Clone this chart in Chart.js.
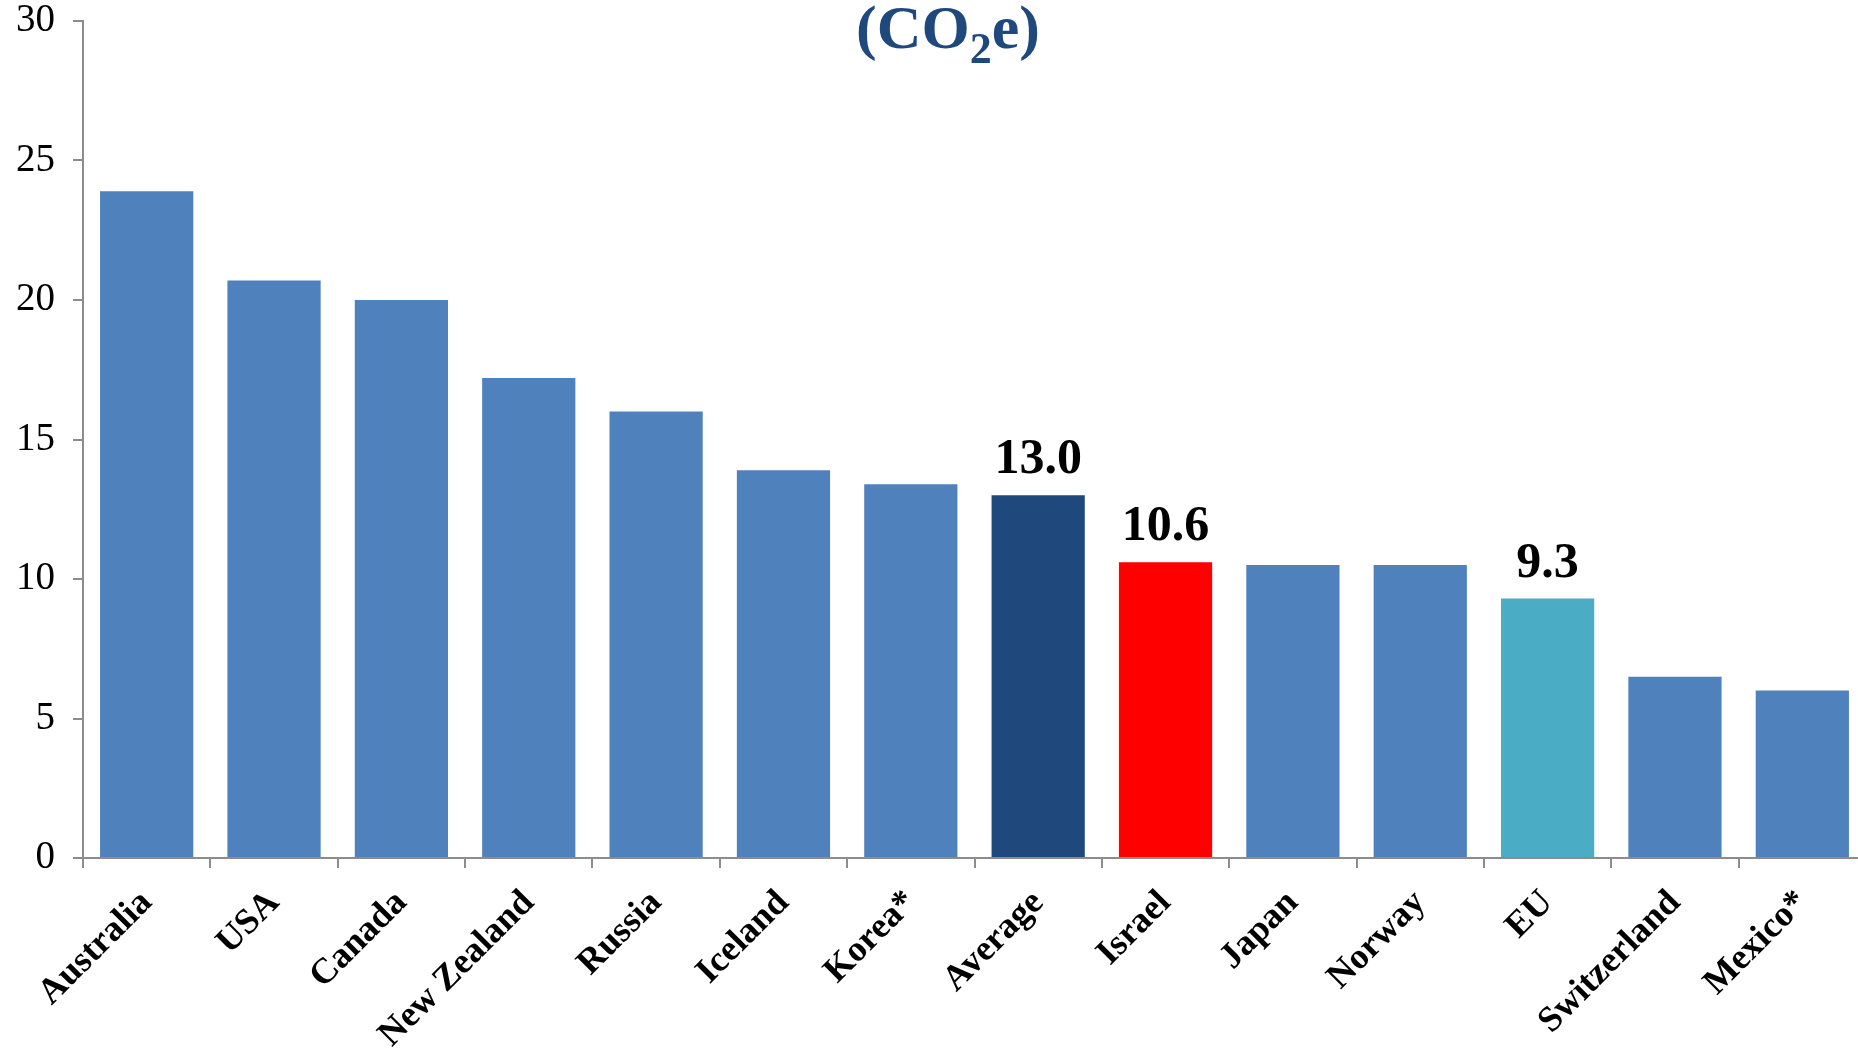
<!DOCTYPE html>
<html>
<head>
<meta charset="utf-8">
<title>CO2e per capita</title>
<script src="https://cdn.jsdelivr.net/npm/chart.js@4.4.1/dist/chart.umd.min.js"></script>
<style>
  html, body { margin: 0; padding: 0; background: #ffffff; overflow: hidden; }
  canvas { display: block; }
</style>
</head>
<body>
<canvas id="chart" width="1866" height="1052"></canvas>
<script>
// Greenhouse-gas emissions per capita, tonnes CO2e
const categories = ['Australia', 'USA', 'Canada', 'New Zealand', 'Russia', 'Iceland', 'Korea*',
                    'Average', 'Israel', 'Japan', 'Norway', 'EU', 'Switzerland', 'Mexico*'];
const emissions = [23.9, 20.7, 20.0, 17.2, 16.0, 13.9, 13.4, 13.0, 10.6, 10.5, 10.5, 9.3, 6.5, 6.0];
const labelledCategories = ['Average', 'Israel', 'EU'];
const yTickValues = [0, 5, 10, 15, 20, 25, 30];
const titleMain = '(CO';
const titleSub = '2';
const titleEnd = 'e)';

const SERIF = "'Liberation Serif', 'Times New Roman', Times, serif";
const BASE_BLUE = '#4F81BD';
const highlight = { 'Average': '#1F497D', 'Israel': '#FF0000', 'EU': '#4BACC6' };
const barColors = categories.map(c => highlight[c] || BASE_BLUE);
const AXIS_GREY = '#8C8C8C';

// Bold value labels over the highlighted bars
const valueLabels = {
  id: 'valueLabels',
  afterDatasetsDraw(chart) {
    const ctx = chart.ctx;
    const meta = chart.getDatasetMeta(0);
    ctx.save();
    ctx.font = 'bold 50px ' + SERIF;
    ctx.fillStyle = '#000000';
    ctx.textAlign = 'center';
    ctx.textBaseline = 'alphabetic';
    categories.forEach((c, i) => {
      if (!labelledCategories.includes(c)) return;
      const bar = meta.data[i];
      ctx.fillText(emissions[i].toFixed(1), bar.x, bar.y - 22);
    });
    ctx.restore();
  }
};

// Heading "(CO2e)" with a subscript 2
const heading = {
  id: 'heading',
  afterDraw(chart) {
    const ctx = chart.ctx;
    const mainFont = 'bold 62px ' + SERIF;
    const subFont = 'bold 44px ' + SERIF;
    ctx.save();
    ctx.fillStyle = '#1F497D';
    ctx.textBaseline = 'alphabetic';
    ctx.textAlign = 'left';
    ctx.font = mainFont;
    const w1 = ctx.measureText(titleMain).width;
    const w3 = ctx.measureText(titleEnd).width;
    ctx.font = subFont;
    const w2 = ctx.measureText(titleSub).width;
    const total = w1 + w2 + w3;
    const cx = 948, baseY = 48;
    let x = cx - total / 2;
    ctx.font = mainFont;
    ctx.fillText(titleMain, x, baseY);
    x += w1;
    ctx.font = subFont;
    ctx.fillText(titleSub, x, baseY + 15);
    x += w2;
    ctx.font = mainFont;
    ctx.fillText(titleEnd, x, baseY);
    ctx.restore();
  }
};

new Chart(document.getElementById('chart'), {
  type: 'bar',
  data: {
    labels: categories,
    datasets: [{
      data: emissions,
      backgroundColor: barColors,
      borderWidth: 0,
      barPercentage: 0.732,
      categoryPercentage: 1.0
    }]
  },
  options: {
    responsive: false,
    animation: false,
    layout: { padding: { top: 21, left: 0, right: 0, bottom: 0 } },
    plugins: {
      legend: { display: false },
      title: { display: false },
      tooltip: { enabled: false }
    },
    scales: {
      x: {
        grid: {
          display: true,
          drawOnChartArea: false,
          drawTicks: true,
          tickLength: 10,
          color: AXIS_GREY,
          lineWidth: 2,
          offset: true
        },
        border: { display: true, color: AXIS_GREY, width: 2 },
        ticks: {
          autoSkip: false,
          minRotation: 45,
          maxRotation: 45,
          padding: 14,
          color: '#000000',
          font: { family: SERIF, size: 36, weight: 'bold' }
        },
        afterFit(scale) { scale.height = 194; }
      },
      y: {
        min: 0,
        max: 30,
        afterBuildTicks(scale) { scale.ticks = yTickValues.map(v => ({ value: v })); },
        grid: {
          display: true,
          drawOnChartArea: false,
          drawTicks: true,
          tickLength: 10,
          color: AXIS_GREY,
          lineWidth: 2
        },
        border: { display: true, color: AXIS_GREY, width: 2 },
        ticks: {
          padding: 18,
          color: '#000000',
          font: { family: SERIF, size: 39 }
        },
        afterFit(scale) {
          scale.width = 83;
          scale.paddingTop = 0;
          scale.paddingBottom = 0;
        }
      }
    }
  },
  plugins: [valueLabels, heading]
});
</script>
</body>
</html>
